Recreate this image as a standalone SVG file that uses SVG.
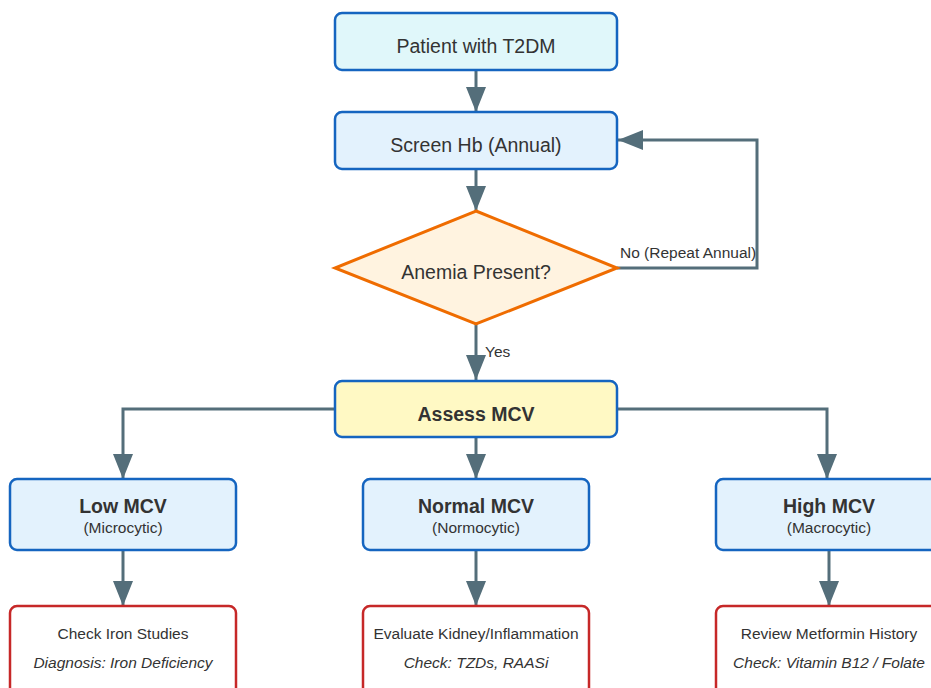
<svg xmlns="http://www.w3.org/2000/svg" width="931" height="688" viewBox="0 0 931 688">
<defs>
<marker id="ah" markerUnits="userSpaceOnUse" markerWidth="26" markerHeight="20" refX="25" refY="10" orient="auto">
<path d="M0,0 L25,10 L0,20 z" fill="#546e7a"/>
</marker>
<style>
.t{font-family:"Liberation Sans",Arial,sans-serif;fill:#333;text-anchor:middle}
.n{font-size:19.5px}
.b{font-size:19.5px;font-weight:bold}
.s{font-size:15.5px}
.i{font-size:15.5px;font-style:italic}
.lbl{font-family:"Liberation Sans",Arial,sans-serif;fill:#333;font-size:15.5px}
.blue{fill:#e3f2fd;stroke:#1565c0;stroke-width:2.5}
.red{fill:#ffffff;stroke:#c62828;stroke-width:2.5}
.c{fill:none;stroke:#546e7a;stroke-width:3;marker-end:url(#ah)}
</style>
</defs>
<rect width="931" height="688" fill="#ffffff"/>
<g id="connectors">
<path class="c" d="M476,70 V112"/>
<path class="c" d="M476,169 V211"/>
<path class="c" d="M617,268 H757 V140 H618"/>
<path class="c" d="M476,324 V380"/>
<path class="c" d="M335,409 H123 V479"/>
<path class="c" d="M476,437 V479"/>
<path class="c" d="M617,409 H827 V479"/>
<path class="c" d="M123,550 V606"/>
<path class="c" d="M476,550 V606"/>
<path class="c" d="M829,550 V606"/>
<text class="lbl" x="620" y="258">No (Repeat Annual)</text>
<text class="lbl" x="485" y="357">Yes</text>
</g>
<g id="patient">
<rect x="335" y="13" width="282" height="57" rx="7" fill="#e0f7fa" stroke="#1565c0" stroke-width="2.5"/>
<text class="t n" x="476" y="53">Patient with T2DM</text>
</g>
<g id="screen">
<rect class="blue" x="335" y="112" width="282" height="57" rx="7"/>
<text class="t n" x="476" y="152">Screen Hb (Annual)</text>
</g>
<g id="anemia">
<polygon points="476,211 617,268 476,324 335,268" fill="#fff3e0" stroke="#ef6c00" stroke-width="3"/>
<text class="t n" x="476" y="279">Anemia Present?</text>
</g>
<g id="assess">
<rect x="335" y="381" width="282" height="56" rx="7" fill="#fff9c4" stroke="#1565c0" stroke-width="2.5"/>
<text class="t b" x="476" y="421">Assess MCV</text>
</g>
<g id="low">
<rect class="blue" x="10" y="479" width="226" height="71" rx="7"/>
<text class="t b" x="123" y="513">Low MCV</text>
<text class="t s" x="123" y="533">(Microcytic)</text>
</g>
<g id="normal">
<rect class="blue" x="363" y="479" width="226" height="71" rx="7"/>
<text class="t b" x="476" y="513">Normal MCV</text>
<text class="t s" x="476" y="533">(Normocytic)</text>
</g>
<g id="high">
<rect class="blue" x="716" y="479" width="226" height="71" rx="7"/>
<text class="t b" x="829" y="513">High MCV</text>
<text class="t s" x="829" y="533">(Macrocytic)</text>
</g>
<g id="iron">
<rect class="red" x="10" y="606" width="226" height="100" rx="7"/>
<text class="t s" x="123" y="639">Check Iron Studies</text>
<text class="t i" x="123" y="668">Diagnosis: Iron Deficiency</text>
</g>
<g id="kidney">
<rect class="red" x="363" y="606" width="226" height="100" rx="7"/>
<text class="t s" x="476" y="639">Evaluate Kidney/Inflammation</text>
<text class="t i" x="476" y="668">Check: TZDs, RAASi</text>
</g>
<g id="metformin">
<rect class="red" x="716" y="606" width="226" height="100" rx="7"/>
<text class="t s" x="829" y="639">Review Metformin History</text>
<text class="t i" x="829" y="668">Check: Vitamin B12 / Folate</text>
</g>
</svg>
